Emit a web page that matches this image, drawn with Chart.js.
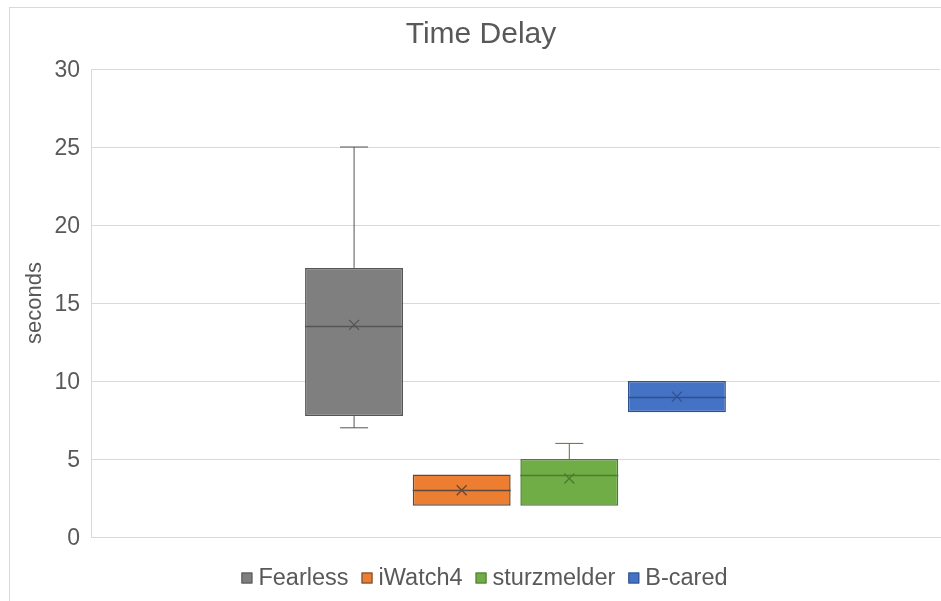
<!DOCTYPE html>
<html>
<head>
<meta charset="utf-8">
<script src="https://cdn.jsdelivr.net/npm/chart.js@4/dist/chart.umd.min.js"></script>
<style>
  html, body { margin: 0; padding: 0; background: #fff; overflow: hidden; }
  .wrap { position: relative; width: 941px; height: 601px; }
  .frame { position: absolute; left: 9px; top: 7px; width: 960px; height: 620px; border: 1px solid #d9d9d9; pointer-events: none; }
</style>
</head>
<body>
<div class="wrap">
  <canvas class="chart"></canvas>
  <div class="frame"></div>
</div>
<script>
// box plot values per device (seconds)
const seriesNames = ["Fearless", "iWatch4", "sturzmelder", "B-cared"];
const mins = [7, 2, 2, 8];
const q1s = [7.75, 2, 2, 8];
const medians = [13.5, 3, 4, 9];
const q3s = [17.25, 4, 5, 10];
const maxs = [25, 4, 6, 10];
const means = [13.6, 3, 3.75, 9];
const yTicks = [0, 5, 10, 15, 20, 25, 30];

const fills = ["#7f7f7f", "#ed7d31", "#70ad47", "#4472c4"];
const edges = ["#555555", "#5e4a3c", "#4e7a31", "#2f528f"];
const FONT = "'Liberation Sans', Arial, sans-serif";
const textColor = "#595959";

// whiskers, median line and mean cross for each box
const boxExtras = {
  id: "boxExtras",
  afterDatasetsDraw(chart) {
    const ctx = chart.ctx;
    const y = chart.scales.y;
    chart.data.datasets.forEach((ds, i) => {
      const el = chart.getDatasetMeta(i).data[0];
      if (!el) return;
      const x = el.x;
      const half = el.width / 2;
      const cap = 14;
      ctx.save();
      ctx.strokeStyle = edges[i];
      ctx.lineWidth = 1;
      // upper whisker
      if (maxs[i] > q3s[i]) {
        ctx.beginPath();
        ctx.moveTo(x, y.getPixelForValue(q3s[i]));
        ctx.lineTo(x, y.getPixelForValue(maxs[i]));
        ctx.moveTo(x - cap, y.getPixelForValue(maxs[i]));
        ctx.lineTo(x + cap, y.getPixelForValue(maxs[i]));
        ctx.stroke();
      }
      // lower whisker
      if (mins[i] < q1s[i]) {
        ctx.beginPath();
        ctx.moveTo(x, y.getPixelForValue(q1s[i]));
        ctx.lineTo(x, y.getPixelForValue(mins[i]));
        ctx.moveTo(x - cap, y.getPixelForValue(mins[i]));
        ctx.lineTo(x + cap, y.getPixelForValue(mins[i]));
        ctx.stroke();
      }
      // median
      ctx.lineWidth = 1.5;
      const my = Math.round(y.getPixelForValue(medians[i])) + 0.5;
      ctx.beginPath();
      ctx.moveTo(x - half, my);
      ctx.lineTo(x + half, my);
      ctx.stroke();
      // mean cross
      const ay = y.getPixelForValue(means[i]);
      const s = 5;
      ctx.lineWidth = 1.3;
      ctx.beginPath();
      ctx.moveTo(x - s, ay - s);
      ctx.lineTo(x + s, ay + s);
      ctx.moveTo(x + s, ay - s);
      ctx.lineTo(x - s, ay + s);
      ctx.stroke();
      ctx.restore();
    });
  }
};

// excel-like legend: small square, tight gap, text
const bottomLegend = {
  id: "bottomLegend",
  afterDraw(chart) {
    const ctx = chart.ctx;
    const box = 11, gap = 6, spacing = 13;
    ctx.save();
    ctx.font = "23.5px " + FONT;
    ctx.textBaseline = "middle";
    const widths = seriesNames.map((n) => ctx.measureText(n).width);
    const total = widths.reduce((a, w) => a + box + gap + w, 0) + spacing * (seriesNames.length - 1);
    let x = chart.width / 2 + 14 - total / 2;
    const cy = 578;
    seriesNames.forEach((n, i) => {
      ctx.fillStyle = fills[i];
      ctx.fillRect(x, cy - box / 2, box, box);
      ctx.strokeStyle = edges[i];
      ctx.lineWidth = 1;
      ctx.strokeRect(x + 0.5, cy - box / 2 + 0.5, box - 1, box - 1);
      ctx.fillStyle = textColor;
      ctx.fillText(n, x + box + gap, cy + 1);
      x += box + gap + widths[i] + spacing;
    });
    ctx.restore();
  }
};

const ctx = document.querySelector(".chart");
new Chart(ctx, {
  type: "bar",
  data: {
    labels: [""],
    datasets: seriesNames.map((name, i) => ({
      label: name,
      data: [[q1s[i], q3s[i]]],
      backgroundColor: fills[i],
      borderColor: edges[i],
      borderWidth: 1.5,
      borderSkipped: false,
      barPercentage: 0.91,
      categoryPercentage: 0.507
    }))
  },
  options: {
    responsive: true,
    maintainAspectRatio: false,
    animation: false,
    layout: { padding: { left: 22, right: 1, top: 10, bottom: 54 } },
    plugins: {
      title: {
        display: true,
        text: "Time Delay",
        color: textColor,
        font: { family: FONT, size: 30, weight: "normal" },
        padding: { top: 7, bottom: 16 }
      },
      legend: { display: false },
      tooltip: { enabled: false }
    },
    scales: {
      x: {
        grid: { display: false },
        border: { display: true, color: "#d9d9d9" },
        ticks: { display: false },
        afterFit: (scale) => { scale.height = 10; }
      },
      y: {
        min: 0,
        max: 30,
        afterBuildTicks: (scale) => { scale.ticks = yTicks.map((v) => ({ value: v })); },
        afterFit: (scale) => { scale.width = 69; },
        grid: { color: "#d9d9d9", drawTicks: false },
        border: { display: true, color: "#d9d9d9" },
        ticks: {
          color: textColor,
          font: { family: FONT, size: 23 },
          padding: 11,
          labelOffset: 2
        },
        title: {
          display: true,
          text: "seconds",
          color: textColor,
          font: { family: FONT, size: 22 },
          padding: { top: 0, bottom: 0 }
        }
      }
    }
  },
  plugins: [boxExtras, bottomLegend]
});
</script>
</body>
</html>
